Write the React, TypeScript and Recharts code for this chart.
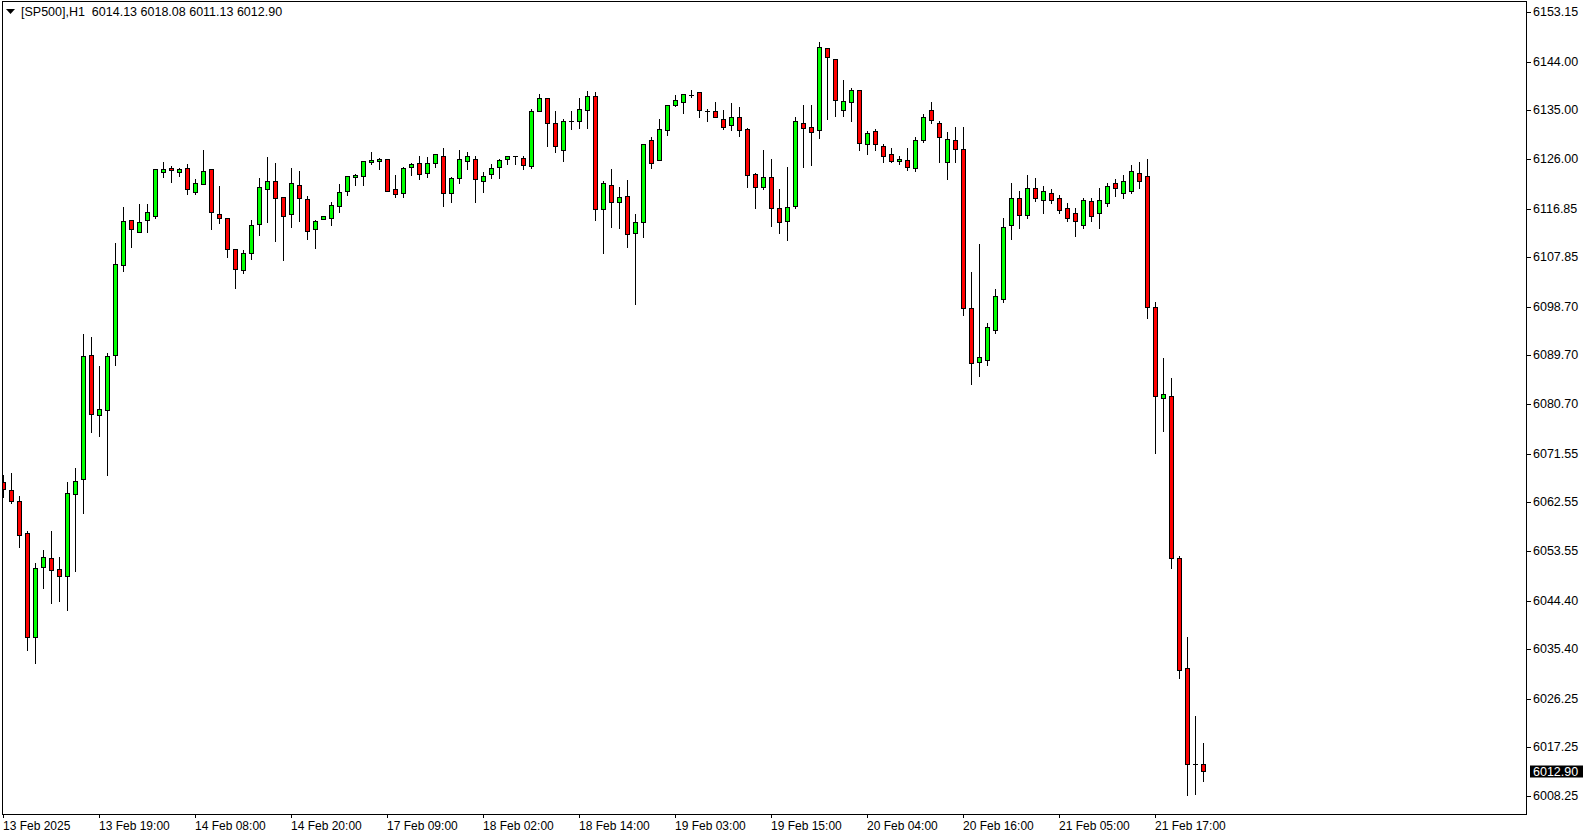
import React from "react";
import { ComposedChart, Bar, XAxis, YAxis } from "recharts";

// SP500 H1 candles
const opens = [
  6066.22, 6064.74, 6062.71, 6056.79, 6037.68, 6050.51, 6052.17, 6050.14, 6048.96, 6064.0,
  6066.78, 6089.7, 6078.72, 6079.53, 6089.7, 6106.33, 6114.65, 6112.43, 6114.83, 6115.57,
  6123.63, 6124.26, 6123.63, 6124.26, 6119.94, 6121.36, 6124.08, 6115.94, 6115.02, 6109.47,
  6105.46, 6108.73, 6113.91, 6120.56, 6122.04, 6118.9, 6115.76, 6121.3, 6118.53, 6112.99,
  6114.95, 6115.2, 6117.24, 6120.01, 6122.6, 6122.78, 6125.37, 6125.56, 6125.93, 6120.38,
  6119.64, 6124.45, 6125.19, 6123.34, 6125.19, 6126.66, 6119.64, 6122.41, 6125.56, 6125.93,
  6122.04, 6123.15, 6124.45, 6125.93, 6126.66, 6126.29, 6124.63, 6134.8, 6137.2, 6132.58,
  6127.77, 6132.95, 6132.95, 6134.98, 6137.75, 6116.68, 6121.3, 6117.98, 6119.09, 6112.25,
  6114.46, 6129.44, 6125.74, 6131.29, 6135.91, 6136.46, 6137.75, 6138.31, 6134.8, 6134.8,
  6133.5, 6132.21, 6133.87, 6131.47, 6123.26, 6120.86, 6122.71, 6116.98, 6114.58, 6117.35,
  6132.76, 6132.02, 6131.29, 6146.44, 6144.59, 6134.98, 6136.46, 6138.68, 6128.7, 6131.1,
  6128.33, 6126.85, 6125.56, 6125.74, 6124.43, 6129.49, 6135.12, 6132.68, 6125.37, 6129.49,
  6127.8, 6098.55, 6088.42, 6088.8, 6094.42, 6100.05, 6113.74, 6118.8, 6115.61, 6120.68,
  6118.43, 6119.74, 6118.8, 6116.93, 6115.99, 6113.74, 6118.24, 6115.99, 6117.86, 6121.61,
  6119.74, 6120.11, 6123.49, 6122.93, 6098.74, 6081.86, 6082.23, 6052.23, 6031.98, 6014.16,
  6014.13,
];

const highs = [
  6067.57, 6067.94, 6063.69, 6057.22, 6051.25, 6053.71, 6057.22, 6052.41, 6066.28, 6068.86,
  6093.63, 6093.08, 6087.72, 6090.07, 6110.45, 6117.11, 6114.83, 6117.66, 6117.66, 6124.08,
  6125.43, 6124.69, 6124.26, 6125.06, 6122.28, 6127.64, 6124.08, 6120.99, 6115.2, 6109.47,
  6109.16, 6114.71, 6122.47, 6126.35, 6125.24, 6118.9, 6124.32, 6123.76, 6119.14, 6114.71,
  6115.39, 6118.03, 6121.36, 6122.78, 6123.21, 6125.56, 6127.22, 6126.29, 6125.93, 6122.97,
  6124.45, 6125.19, 6126.48, 6126.35, 6127.03, 6128.14, 6122.6, 6127.77, 6127.4, 6126.66,
  6123.52, 6125.0, 6125.93, 6126.66, 6126.66, 6126.66, 6135.17, 6137.94, 6137.2, 6134.8,
  6133.32, 6134.8, 6137.26, 6138.55, 6138.31, 6121.86, 6124.13, 6120.93, 6122.15, 6115.94,
  6128.7, 6129.99, 6133.32, 6135.91, 6137.81, 6137.94, 6138.68, 6138.31, 6135.17, 6136.46,
  6134.98, 6136.28, 6135.54, 6131.66, 6123.45, 6127.77, 6125.93, 6120.56, 6124.45, 6133.69,
  6135.91, 6135.91, 6147.61, 6146.44, 6144.59, 6140.53, 6139.05, 6138.68, 6131.1, 6131.47,
  6128.7, 6127.96, 6126.66, 6127.96, 6130.05, 6134.37, 6136.62, 6133.05, 6130.99, 6131.93,
  6131.93, 6105.11, 6110.36, 6095.74, 6101.92, 6115.05, 6121.61, 6120.11, 6123.11, 6122.55,
  6121.05, 6120.49, 6119.36, 6117.86, 6116.93, 6118.8, 6118.8, 6120.68, 6121.61, 6122.36,
  6123.11, 6124.99, 6125.37, 6125.93, 6099.67, 6089.17, 6085.61, 6052.6, 6037.6, 6022.97,
  6018.08,
];

const lows = [
  6063.56, 6062.45, 6054.32, 6035.22, 6032.88, 6046.74, 6043.97, 6044.34, 6042.67, 6049.88,
  6060.6, 6075.57, 6074.83, 6067.57, 6087.96, 6105.33, 6109.77, 6112.43, 6112.54, 6115.13,
  6122.71, 6121.78, 6122.89, 6119.46, 6119.57, 6121.36, 6112.99, 6114.1, 6107.92, 6102.08,
  6104.85, 6107.44, 6111.99, 6114.28, 6110.88, 6107.37, 6113.47, 6114.58, 6111.25, 6109.59,
  6114.95, 6113.84, 6116.24, 6119.27, 6121.3, 6121.3, 6125.0, 6124.19, 6120.01, 6118.9,
  6118.9, 6122.97, 6122.23, 6122.6, 6124.45, 6117.35, 6118.09, 6121.67, 6124.08, 6117.98,
  6119.94, 6122.41, 6122.41, 6125.11, 6125.11, 6124.08, 6124.26, 6134.8, 6128.33, 6127.22,
  6125.56, 6131.47, 6131.66, 6131.66, 6114.65, 6108.55, 6113.47, 6113.28, 6109.77, 6099.12,
  6111.62, 6124.37, 6125.74, 6130.36, 6135.72, 6134.43, 6137.39, 6133.69, 6132.95, 6133.69,
  6131.47, 6131.29, 6130.18, 6120.86, 6116.98, 6120.49, 6113.65, 6112.36, 6111.06, 6116.98,
  6124.5, 6124.87, 6129.81, 6133.5, 6133.98, 6133.98, 6133.13, 6127.7, 6126.85, 6127.77,
  6125.37, 6125.37, 6125.0, 6123.95, 6123.86, 6129.12, 6132.68, 6125.37, 6122.36, 6125.37,
  6097.24, 6084.48, 6085.98, 6087.86, 6093.86, 6099.67, 6111.3, 6113.18, 6115.05, 6118.24,
  6115.99, 6117.86, 6115.99, 6114.49, 6111.86, 6113.18, 6114.49, 6113.18, 6117.3, 6119.18,
  6118.8, 6119.74, 6120.68, 6096.67, 6071.73, 6075.67, 6050.35, 6030.1, 6008.53, 6008.72,
  6011.13,
];

const closes = [
  6064.93, 6062.82, 6056.54, 6037.68, 6050.32, 6052.36, 6050.07, 6048.96, 6064.19, 6066.52,
  6089.51, 6078.79, 6079.77, 6089.51, 6106.52, 6114.52, 6112.99, 6114.46, 6116.13, 6124.08,
  6124.08, 6123.89, 6124.08, 6120.38, 6121.49, 6123.71, 6116.18, 6115.2, 6109.47, 6105.59,
  6108.73, 6113.73, 6120.75, 6122.04, 6118.72, 6115.57, 6121.67, 6118.72, 6112.62, 6114.52,
  6115.39, 6117.42, 6119.83, 6122.78, 6122.97, 6125.56, 6125.74, 6125.93, 6120.19, 6119.46,
  6124.26, 6125.0, 6123.15, 6125.19, 6126.85, 6119.64, 6122.41, 6125.93, 6126.66, 6122.23,
  6122.78, 6124.26, 6125.74, 6126.48, 6126.6, 6124.82, 6134.8, 6137.2, 6132.76, 6128.33,
  6132.95, 6133.06, 6135.17, 6137.57, 6116.68, 6121.67, 6117.98, 6118.9, 6112.06, 6114.28,
  6128.7, 6125.19, 6131.47, 6135.91, 6136.83, 6137.94, 6137.87, 6134.98, 6134.74, 6133.69,
  6132.02, 6133.69, 6131.29, 6123.08, 6120.86, 6122.71, 6116.98, 6114.39, 6117.05, 6132.95,
  6131.66, 6130.92, 6146.63, 6144.78, 6136.83, 6136.65, 6138.68, 6128.88, 6130.73, 6128.7,
  6126.66, 6125.56, 6125.93, 6124.5, 6129.49, 6133.8, 6133.24, 6130.05, 6129.68, 6127.8,
  6098.55, 6088.23, 6089.36, 6094.99, 6100.61, 6113.36, 6118.8, 6115.61, 6120.68, 6118.8,
  6120.11, 6118.43, 6116.55, 6115.05, 6114.49, 6118.43, 6115.43, 6118.43, 6121.05, 6120.68,
  6121.99, 6123.86, 6121.99, 6098.74, 6082.23, 6082.61, 6052.23, 6031.6, 6014.16, 6013.97,
  6012.9,
];

// one time label every 12 bars
const timeLabels = [
  "13 Feb 2025", "13 Feb 19:00", "14 Feb 08:00", "14 Feb 20:00", "17 Feb 09:00",
  "18 Feb 02:00", "18 Feb 14:00", "19 Feb 03:00", "19 Feb 15:00", "20 Feb 04:00",
  "20 Feb 16:00", "21 Feb 05:00", "21 Feb 17:00",
];
const labelStep = 12;

const priceTicks = [
  6153.15, 6144.0, 6135.0, 6126.0, 6116.85, 6107.85, 6098.7, 6089.7, 6080.7,
  6071.55, 6062.55, 6053.55, 6044.4, 6035.4, 6026.25, 6017.25, 6008.25,
];
const lastPrice = 6012.9;

const candles = opens.map((o, i) => ({
  i,
  o,
  h: highs[i],
  l: lows[i],
  c: closes[i],
}));
const timeTicks = timeLabels.map((_, k) => k * labelStep);

const FONT = '"Liberation Sans", Arial, sans-serif';

function Candle(props: any) {
  const { x, y, width, height, payload } = props;
  if (!payload || x == null || y == null) return null;
  const { o, h, l, c } = payload;
  const k = h - l > 0 ? height / (h - l) : 0;
  const py = (v: number) => y + (h - v) * k;
  const cx = Math.floor(x + width / 2) + 0.5;
  const yh = Math.round(py(h));
  const yl = Math.round(py(l));
  const top = Math.round(Math.min(py(o), py(c)));
  const bot = Math.round(Math.max(py(o), py(c)));
  const fill = c >= o ? "#00ff00" : "#ff0000";
  return (
    <g>
      <line x1={cx} x2={cx} y1={yh} y2={yl + 1} stroke="#000" strokeWidth={1} />
      {bot - top >= 2 ? (
        <rect
          x={cx - 2}
          y={top + 0.5}
          width={4}
          height={bot - top}
          fill={fill}
          stroke="#000"
          strokeWidth={1}
        />
      ) : (
        <line x1={cx - 2.5} x2={cx + 2.5} y1={top + 0.5} y2={top + 0.5} stroke="#000" />
      )}
    </g>
  );
}

function TimeTick(props: any) {
  const { x, y, payload } = props;
  const px = Math.floor(x) + 0.5;
  const label = timeLabels[Math.round(payload.value / labelStep)];
  return (
    <g>
      <line x1={px} x2={px} y1={y} y2={y + 4} stroke="#000" />
      <text x={px - 0.5} y={y + 15.5} fontSize={12} fontFamily={FONT} fill="#000">
        {label}
      </text>
    </g>
  );
}

function PriceTick(props: any) {
  const { x, y, payload } = props;
  const v = payload.value;
  const py = Math.round(y) + 0.5;
  if (v === lastPrice) {
    return (
      <g>
        <rect x={x + 4} y={py - 6} width={53} height={12} fill="#000" />
        <text x={x + 7} y={py + 4} fontSize={12.5} fontFamily={FONT} fill="#fff">
          {v.toFixed(2)}
        </text>
      </g>
    );
  }
  return (
    <g>
      <line x1={x} x2={x + 5} y1={py} y2={py} stroke="#000" />
      <text x={x + 7} y={py + 3.5} fontSize={12.5} fontFamily={FONT} fill="#000">
        {v.toFixed(2)}
      </text>
    </g>
  );
}

export default function App() {
  return (
    <div
      style={{
        position: "absolute",
        left: 0,
        top: 0,
        width: 1590,
        height: 838,
        background: "#fff",
      }}
    >
      <ComposedChart
        width={1590}
        height={838}
        data={candles}
        margin={{ top: 1, right: 0, bottom: 0, left: 2 }}
      >
        <XAxis
          type="number"
          dataKey="i"
          domain={[-0.1875, 190.3125]}
          allowDataOverflow
          ticks={timeTicks}
          interval={0}
          axisLine={false}
          tickLine={false}
          tickSize={0}
          tickMargin={0}
          height={24}
          tick={<TimeTick />}
        />
        <YAxis
          orientation="right"
          type="number"
          domain={[6004.94, 6155.22]}
          allowDataOverflow
          ticks={[...priceTicks, lastPrice]}
          interval={0}
          axisLine={false}
          tickLine={false}
          tickSize={0}
          tickMargin={0}
          width={64}
          tick={<PriceTick />}
        />
        <Bar
          dataKey={(d: any) => [d.l, d.h]}
          barSize={5}
          shape={<Candle />}
          isAnimationActive={false}
        />
      </ComposedChart>

      {/* chart frame */}
      <div
        style={{
          position: "absolute",
          left: 2,
          top: 1,
          width: 1525,
          height: 814,
          border: "1px solid #000",
          boxSizing: "border-box",
          pointerEvents: "none",
        }}
      />

      {/* symbol header */}
      <svg
        width={12}
        height={10}
        style={{ position: "absolute", left: 5, top: 8 }}
      >
        <polygon points="1,1 10,1 5.5,6" fill="#000" />
      </svg>
      <div
        style={{
          position: "absolute",
          left: 21,
          top: 5,
          fontFamily: FONT,
          fontSize: 12.5,
          lineHeight: "15px",
          color: "#000",
          whiteSpace: "pre",
        }}
      >
        [SP500],H1  6014.13 6018.08 6011.13 6012.90
      </div>
    </div>
  );
}
